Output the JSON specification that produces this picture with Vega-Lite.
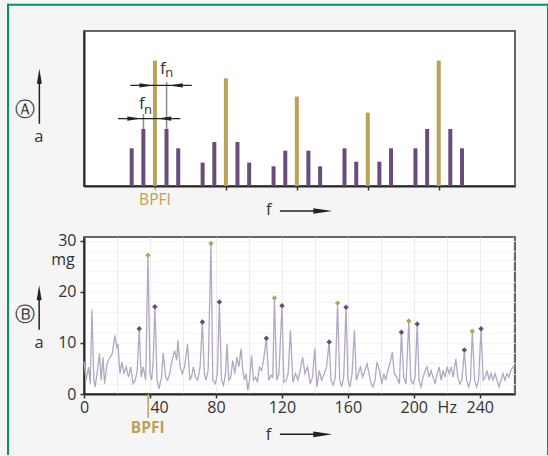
{
"$schema":"https://vega.github.io/schema/vega-lite/v6.json",
"background":"#f5f5f5",
"padding":{"left":5,"top":2,"right":0,"bottom":0},
"bounds":"flush",
"spacing":51,
"config":{"view":{"fill":"white","stroke":"#666666","strokeWidth":2},"font":"Open Sans","text":{"color":"#333","font":"Open Sans"},
"axis":{"labelFont":"Open Sans","labelColor":"#333","labelFontSize":16,"domainColor":"#2a2a2a","domainWidth":2,"tickColor":"#333","title":null}},
"datasets":{
"frame":[{"f":-1.071,"f2":-1.071,"a":181.2,"a2":-268},{"f":6.54,"f2":6.54,"a":181.2,"a2":-268},{"f":-1.071,"f2":6.54,"a":181.2,"a2":181.2}],
"bars":[
{"f":0.672,"a":37.7,"line":"sideband"},{"f":0.837,"a":57,"line":"sideband"},{"f":1.0,"a":125.4,"line":"BPFI"},{"f":1.163,"a":57,"line":"sideband"},{"f":1.328,"a":37.7,"line":"sideband"},
{"f":1.672,"a":23.4,"line":"sideband"},{"f":1.837,"a":44,"line":"sideband"},{"f":2.0,"a":107.7,"line":"BPFI"},{"f":2.163,"a":44,"line":"sideband"},{"f":2.328,"a":23.4,"line":"sideband"},
{"f":2.672,"a":19.7,"line":"sideband"},{"f":2.837,"a":35.3,"line":"sideband"},{"f":3.0,"a":89.4,"line":"BPFI"},{"f":3.163,"a":35.3,"line":"sideband"},{"f":3.328,"a":19.7,"line":"sideband"},
{"f":3.672,"a":37.7,"line":"sideband"},{"f":3.837,"a":24.3,"line":"sideband"},{"f":4.0,"a":73.4,"line":"BPFI"},{"f":4.163,"a":24.3,"line":"sideband"},{"f":4.328,"a":37.7,"line":"sideband"},
{"f":4.672,"a":37.7,"line":"sideband"},{"f":4.837,"a":57,"line":"sideband"},{"f":5.0,"a":125.4,"line":"BPFI"},{"f":5.163,"a":57,"line":"sideband"},{"f":5.328,"a":37.7,"line":"sideband"}],
"topLines":[
{"part":"dim","f":0.653,"f2":1.519,"a":100.6,"a2":100.6},
{"part":"dim","f":0.479,"f2":1.357,"a":67.4,"a2":67.4},
{"part":"guide","f":1.164,"f2":1.164,"a":104,"a2":57},
{"part":"guide","f":0.838,"f2":0.838,"a":72,"a2":57},
{"part":"axisArrow","f":-0.629,"f2":-0.629,"a":62.3,"a2":110},
{"part":"axisArrow","f":2.761,"f2":3.3,"a":-25,"a2":-25}],
"topHeads":[
{"dir":"right","f":0.98,"a":100.6},{"dir":"left","f":1.194,"a":100.6},
{"dir":"right","f":0.808,"a":67.4},{"dir":"left","f":1.032,"a":67.4},
{"dir":"up","f":-0.629,"a":117.3},{"dir":"axisRight","f":3.5,"a":-25}],
"topText":[
{"role":"fn","t":"f","f":1.111,"a":111.7},{"role":"fn","t":"f","f":0.817,"a":77.3},
{"role":"sub","t":"n","f":1.202,"a":109},{"role":"sub","t":"n","f":0.902,"a":72.3},
{"role":"label","t":"a","f":-0.638,"a":44},{"role":"label","t":"f","f":2.605,"a":-29.3},
{"role":"circled","t":"Ⓐ","f":-0.83,"a":76.5},
{"role":"bpfi","t":"BPFI","f":1.0,"a":-19.3}],
"spectrum":[
{"f":0,"a":6.4},{"f":1.3,"a":2.7},{"f":2.8,"a":5.3},{"f":3.8,"a":2.0},{"f":4.8,"a":16.5},{"f":6.0,"a":2.7},{"f":6.8,"a":1.4},{"f":8.4,"a":5.3},{"f":9.4,"a":7.9},{"f":10.4,"a":2.7},
{"f":11.5,"a":7.2},{"f":12.5,"a":2.0},{"f":13.9,"a":5.9},{"f":14.9,"a":6.6},{"f":15.9,"a":7.2},{"f":17.1,"a":7.9},{"f":18.8,"a":11.5},{"f":19.8,"a":9.2},{"f":20.6,"a":9.8},{"f":21.8,"a":4.0},
{"f":23.0,"a":6.3},{"f":24.2,"a":4.0},{"f":25.6,"a":5.3},{"f":27.0,"a":3.3},{"f":28.3,"a":5.3},{"f":29.7,"a":2.0},{"f":31.1,"a":2.7},{"f":32.3,"a":4.6},{"f":33.5,"a":12.8},{"f":34.7,"a":3.3},
{"f":35.9,"a":5.3},{"f":37.4,"a":2.7},{"f":38.8,"a":27.2},{"f":40.0,"a":4.0},{"f":41.0,"a":2.7},{"f":42.0,"a":6.6},{"f":43.0,"a":17.1},{"f":44.3,"a":2.7},{"f":45.5,"a":1.0},{"f":47.0,"a":3.3},
{"f":48.0,"a":8.0},{"f":49.5,"a":3.3},{"f":50.7,"a":2.7},{"f":52.0,"a":4.0},{"f":53.4,"a":6.6},{"f":55.0,"a":8.5},{"f":56.2,"a":6.6},{"f":57.0,"a":10.5},{"f":58.3,"a":5.3},{"f":59.6,"a":4.0},
{"f":61.0,"a":5.3},{"f":62.8,"a":9.8},{"f":64.2,"a":2.7},{"f":65.3,"a":3.5},{"f":66.3,"a":5.3},{"f":67.6,"a":3.3},{"f":69.0,"a":2.7},{"f":70.4,"a":5.3},{"f":71.8,"a":14.1},{"f":73.0,"a":4.0},
{"f":74.0,"a":2.7},{"f":75.3,"a":4.6},{"f":77.0,"a":29.5},{"f":78.1,"a":2.7},{"f":79.7,"a":2.0},{"f":80.9,"a":4.0},{"f":82.1,"a":18.0},{"f":83.4,"a":2.7},{"f":84.6,"a":1.7},{"f":85.8,"a":4.0},
{"f":86.8,"a":9.8},{"f":87.8,"a":2.7},{"f":89.0,"a":3.3},{"f":90.2,"a":6.6},{"f":91.5,"a":4.0},{"f":92.7,"a":7.2},{"f":93.9,"a":5.3},{"f":95.3,"a":8.9},{"f":96.3,"a":4.6},{"f":97.3,"a":2.7},
{"f":98.3,"a":4.0},{"f":99.3,"a":0.7},{"f":100.4,"a":2.7},{"f":101.6,"a":7.6},{"f":102.8,"a":2.7},{"f":104.0,"a":3.3},{"f":105.2,"a":2.3},{"f":106.4,"a":5.3},{"f":107.7,"a":4.6},{"f":108.9,"a":6.6},
{"f":110.6,"a":10.9},{"f":112.1,"a":2.7},{"f":113.5,"a":3.7},{"f":114.5,"a":3.3},{"f":115.5,"a":18.8},{"f":116.9,"a":2.7},{"f":118.2,"a":4.0},{"f":120.1,"a":17.3},{"f":121.2,"a":2.3},{"f":122.6,"a":2.7},
{"f":123.8,"a":4.0},{"f":125.2,"a":12.5},{"f":126.7,"a":2.3},{"f":128.3,"a":4.0},{"f":129.7,"a":2.7},{"f":131.1,"a":4.6},{"f":132.6,"a":7.2},{"f":134.0,"a":4.0},{"f":135.6,"a":5.3},{"f":137.2,"a":2.0},
{"f":138.6,"a":3.3},{"f":140.0,"a":8.9},{"f":141.3,"a":1.4},{"f":142.7,"a":4.6},{"f":144.1,"a":2.7},{"f":145.7,"a":4.0},{"f":147.1,"a":5.3},{"f":148.7,"a":10.2},{"f":149.8,"a":2.7},{"f":151.2,"a":1.7},
{"f":152.4,"a":3.3},{"f":153.8,"a":17.8},{"f":155.1,"a":2.7},{"f":156.3,"a":1.4},{"f":157.5,"a":3.3},{"f":158.9,"a":17.0},{"f":160.1,"a":2.7},{"f":161.3,"a":1.4},{"f":162.6,"a":4.0},{"f":164.0,"a":12.5},
{"f":165.2,"a":2.7},{"f":166.4,"a":4.0},{"f":167.6,"a":5.3},{"f":169.0,"a":3.3},{"f":170.4,"a":4.6},{"f":171.7,"a":5.9},{"f":172.9,"a":4.0},{"f":174.1,"a":2.0},{"f":175.3,"a":1.4},{"f":176.5,"a":2.7},
{"f":177.7,"a":6.3},{"f":179.2,"a":4.6},{"f":180.6,"a":2.0},{"f":181.8,"a":4.0},{"f":183.0,"a":2.7},{"f":184.2,"a":4.6},{"f":185.8,"a":6.3},{"f":187.0,"a":8.2},{"f":188.2,"a":4.0},{"f":189.7,"a":3.3},
{"f":191.3,"a":2.0},{"f":192.5,"a":12.1},{"f":193.9,"a":3.3},{"f":195.3,"a":2.0},{"f":197.0,"a":14.3},{"f":198.2,"a":2.7},{"f":199.6,"a":2.0},{"f":200.8,"a":3.3},{"f":202.1,"a":13.7},{"f":203.2,"a":2.7},
{"f":204.4,"a":1.4},{"f":205.7,"a":3.3},{"f":206.9,"a":4.6},{"f":208.1,"a":5.3},{"f":209.3,"a":3.3},{"f":210.5,"a":4.6},{"f":211.7,"a":3.3},{"f":212.9,"a":2.0},{"f":214.2,"a":4.0},{"f":215.4,"a":5.3},
{"f":216.6,"a":2.7},{"f":217.8,"a":4.6},{"f":219.0,"a":3.3},{"f":220.3,"a":5.3},{"f":221.5,"a":4.0},{"f":222.7,"a":5.3},{"f":223.9,"a":3.3},{"f":225.5,"a":6.9},{"f":226.7,"a":3.3},{"f":227.9,"a":2.0},
{"f":229.2,"a":2.7},{"f":230.7,"a":8.6},{"f":232.0,"a":2.7},{"f":233.3,"a":1.4},{"f":234.4,"a":2.7},{"f":235.5,"a":12.3},{"f":236.9,"a":2.7},{"f":238.1,"a":1.4},{"f":239.3,"a":2.7},{"f":240.8,"a":12.8},
{"f":242.1,"a":2.7},{"f":243.3,"a":3.3},{"f":244.5,"a":4.6},{"f":245.7,"a":2.7},{"f":246.9,"a":4.0},{"f":248.1,"a":2.7},{"f":249.3,"a":4.0},{"f":250.5,"a":2.7},{"f":251.7,"a":1.4},{"f":252.9,"a":2.7},
{"f":254.1,"a":4.0},{"f":255.3,"a":2.7},{"f":256.5,"a":4.0},{"f":257.7,"a":3.3},{"f":258.9,"a":4.6},{"f":260.1,"a":5.3},{"f":261.4,"a":5.5}],
"peaks":[
{"f":38.8,"a":27.2,"line":"BPFI"},{"f":77.0,"a":29.5,"line":"BPFI"},{"f":115.5,"a":18.8,"line":"BPFI"},{"f":153.8,"a":17.8,"line":"BPFI"},{"f":197.0,"a":14.3,"line":"BPFI"},{"f":235.5,"a":12.3,"line":"BPFI"},
{"f":33.5,"a":12.8,"line":"sideband"},{"f":43.0,"a":17.1,"line":"sideband"},{"f":71.8,"a":14.1,"line":"sideband"},{"f":82.1,"a":18.0,"line":"sideband"},{"f":110.6,"a":10.9,"line":"sideband"},{"f":120.1,"a":17.3,"line":"sideband"},
{"f":148.7,"a":10.2,"line":"sideband"},{"f":158.9,"a":17.0,"line":"sideband"},{"f":192.5,"a":12.1,"line":"sideband"},{"f":202.1,"a":13.7,"line":"sideband"},{"f":230.7,"a":8.6,"line":"sideband"},{"f":240.8,"a":12.8,"line":"sideband"}],
"botLines":[
{"part":"bpfi","f":38.9,"f2":38.9,"a":0,"a2":-4.7},
{"part":"axisArrow","f":-27.2,"f2":-27.2,"a":12.6,"a2":19.5},
{"part":"axisArrow","f":118.8,"f2":142,"a":-7.9,"a2":-7.9}],
"botHeads":[{"dir":"up","f":-27.2,"a":21.3},{"dir":"axisRight","f":150.6,"a":-7.9}],
"botText":[
{"role":"label","t":"a","f":-27.3,"a":9.0},{"role":"label","t":"f","f":111.9,"a":-9.1},
{"role":"unit","t":"mg","f":-5.6,"a":25.3},
{"role":"circled","t":"Ⓑ","f":-35.6,"a":15.5},
{"role":"bpfi","t":"BPFI","f":38.6,"a":-7.6}]
},
"vconcat":[
{
"width":431,"height":155,
"encoding":{
"x":{"field":"f","type":"quantitative","scale":{"domain":[0,6.075],"nice":false,"zero":false,"padding":0},
 "axis":{"values":[1,2,3,4,5],"labels":false,"grid":false,"tickSize":4,"tickWidth":1.5,"tickColor":{"condition":{"test":"datum.value == 1","value":"#bba257"},"value":"#333"}}},
"y":{"field":"a","type":"quantitative","scale":{"domain":[0,155],"nice":false,"padding":0},
 "axis":{"labels":false,"ticks":false,"grid":false}}
},
"layer":[
{"data":{"name":"frame"},"mark":{"type":"rule","color":"#00965a","strokeWidth":2,"strokeCap":"square"},"encoding":{"x2":{"field":"f2"},"y2":{"field":"a2"}}},
{"data":{"name":"bars"},"mark":{"type":"bar","size":4},"encoding":{"color":{"field":"line","type":"nominal","scale":{"domain":["BPFI","sideband"],"range":["#bba257","#6a4c7b"]},"legend":null}}},
{"data":{"name":"topLines"},"transform":[{"filter":"datum.part == 'guide'"}],"mark":{"type":"rule","color":"#8a8a8a","strokeWidth":1.5},"encoding":{"x2":{"field":"f2"},"y2":{"field":"a2"}}},
{"data":{"name":"topLines"},"transform":[{"filter":"datum.part == 'dim'"}],"mark":{"type":"rule","color":"#222","strokeWidth":1.2},"encoding":{"x2":{"field":"f2"},"y2":{"field":"a2"}}},
{"data":{"name":"topLines"},"transform":[{"filter":"datum.part == 'axisArrow'"}],"mark":{"type":"rule","color":"#222","strokeWidth":1.5},"encoding":{"x2":{"field":"f2"},"y2":{"field":"a2"}}},
{"data":{"name":"topHeads"},"transform":[{"filter":"datum.dir == 'right'"}],"mark":{"type":"point","shape":"M0,0L-2,-0.3L-2,0.3Z","filled":true,"size":196,"color":"#222","opacity":1}},
{"data":{"name":"topHeads"},"transform":[{"filter":"datum.dir == 'left'"}],"mark":{"type":"point","shape":"M0,0L2,-0.3L2,0.3Z","filled":true,"size":196,"color":"#222","opacity":1}},
{"data":{"name":"topHeads"},"transform":[{"filter":"datum.dir == 'up'"}],"mark":{"type":"point","shape":"M0,0L-0.33,2L0.33,2Z","filled":true,"size":225,"color":"#222","opacity":1}},
{"data":{"name":"topHeads"},"transform":[{"filter":"datum.dir == 'axisRight'"}],"mark":{"type":"point","shape":"M0,0L-2,-0.3L-2,0.3Z","filled":true,"size":361,"color":"#222","opacity":1}},
{"data":{"name":"topText"},"transform":[{"filter":"datum.role == 'fn'"}],"mark":{"type":"text","fontSize":17,"align":"center","baseline":"alphabetic","color":"#333"},"encoding":{"text":{"field":"t"}}},
{"data":{"name":"topText"},"transform":[{"filter":"datum.role == 'sub'"}],"mark":{"type":"text","fontSize":13,"align":"center","baseline":"alphabetic","color":"#333"},"encoding":{"text":{"field":"t"}}},
{"data":{"name":"topText"},"transform":[{"filter":"datum.role == 'label'"}],"mark":{"type":"text","fontSize":16.5,"align":"center","baseline":"alphabetic","color":"#333"},"encoding":{"text":{"field":"t"}}},
{"data":{"name":"topText"},"transform":[{"filter":"datum.role == 'circled'"}],"mark":{"type":"text","font":"DejaVu Sans","fontSize":20,"align":"center","baseline":"middle","color":"#333"},"encoding":{"text":{"field":"t"}}},
{"data":{"name":"topText"},"transform":[{"filter":"datum.role == 'bpfi'"}],"mark":{"type":"text","fontSize":15.5,"align":"center","baseline":"alphabetic","color":"#bba257"},"encoding":{"text":{"field":"t"}}}
]
},
{
"width":431,"height":157,
"encoding":{
"x":{"field":"f","type":"quantitative","scale":{"domain":[0,261.4],"nice":false,"zero":false,"padding":0},
 "axis":{"values":[0,20,40,60,80,100,120,140,160,180,200,220,240,260],
  "labelExpr":"datum.value == 220 ? 'Hz' : (datum.value % 40 == 0 ? datum.label : '')",
  "labelAlign":{"condition":{"test":"datum.value == 40","value":"left"},"value":"center"},
  "tickOpacity":{"condition":{"test":"datum.value % 40 != 0","value":0},"value":1},
  "labelFlush":false,"labelOverlap":false,"labelPadding":1,"tickSize":4,"tickWidth":1.5,
  "grid":true,"gridColor":"#ececec","gridWidth":1}},
"y":{"field":"a","type":"quantitative","scale":{"domain":[0,30.75],"nice":false,"padding":0},
 "axis":{"values":[0,2,4,6,8,10,12,14,16,18,20,22,24,26,28,30],
  "labelExpr":"datum.value % 10 == 0 ? datum.label : ''",
  "tickOpacity":{"condition":{"test":"datum.value % 10 != 0","value":0},"value":1},
  "labelFlush":false,"labelOverlap":false,"labelPadding":4,"tickSize":4,"tickWidth":1.5,
  "grid":true,"gridColor":"#f4f4f4","gridWidth":1}}
},
"layer":[
{"data":{"name":"spectrum"},"mark":{"type":"line","color":"#b3a8c3","strokeWidth":1.3}},
{"data":{"name":"peaks"},"mark":{"type":"point","shape":"diamond","filled":true,"size":30,"opacity":1},"encoding":{"color":{"field":"line","type":"nominal","scale":{"domain":["BPFI","sideband"],"range":["#c2a24e","#5e3f70"]},"legend":null}}},
{"data":{"name":"botLines"},"transform":[{"filter":"datum.part == 'bpfi'"}],"mark":{"type":"rule","color":"#bba257","strokeWidth":1.5},"encoding":{"x2":{"field":"f2"},"y2":{"field":"a2"}}},
{"data":{"name":"botLines"},"transform":[{"filter":"datum.part == 'axisArrow'"}],"mark":{"type":"rule","color":"#222","strokeWidth":1.5},"encoding":{"x2":{"field":"f2"},"y2":{"field":"a2"}}},
{"data":{"name":"botHeads"},"transform":[{"filter":"datum.dir == 'up'"}],"mark":{"type":"point","shape":"M0,0L-0.33,2L0.33,2Z","filled":true,"size":225,"color":"#222","opacity":1}},
{"data":{"name":"botHeads"},"transform":[{"filter":"datum.dir == 'axisRight'"}],"mark":{"type":"point","shape":"M0,0L-2,-0.3L-2,0.3Z","filled":true,"size":361,"color":"#222","opacity":1}},
{"data":{"name":"botText"},"transform":[{"filter":"datum.role == 'label'"}],"mark":{"type":"text","fontSize":16.5,"align":"center","baseline":"alphabetic","color":"#333"},"encoding":{"text":{"field":"t"}}},
{"data":{"name":"botText"},"transform":[{"filter":"datum.role == 'unit'"}],"mark":{"type":"text","fontSize":16,"align":"right","baseline":"alphabetic","color":"#333"},"encoding":{"text":{"field":"t"}}},
{"data":{"name":"botText"},"transform":[{"filter":"datum.role == 'circled'"}],"mark":{"type":"text","font":"DejaVu Sans","fontSize":20,"align":"center","baseline":"middle","color":"#333"},"encoding":{"text":{"field":"t"}}},
{"data":{"name":"botText"},"transform":[{"filter":"datum.role == 'bpfi'"}],"mark":{"type":"text","fontSize":15.5,"fontWeight":"bold","align":"center","baseline":"alphabetic","color":"#bba257"},"encoding":{"text":{"field":"t"}}}
]
}
]
}
